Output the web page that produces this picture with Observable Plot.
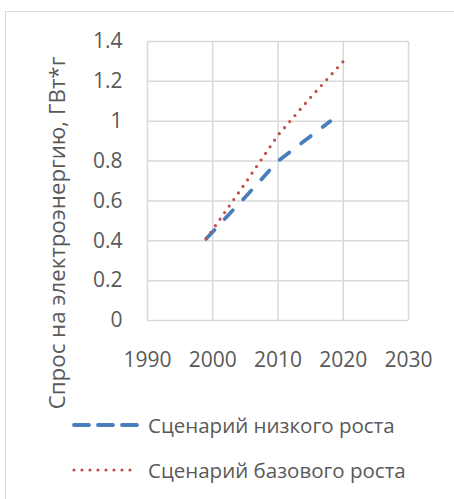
<!DOCTYPE html>
<html>
<head>
<meta charset="utf-8">
<script src="https://cdn.jsdelivr.net/npm/d3@7"></script>
<script src="https://cdn.jsdelivr.net/npm/@observablehq/plot@0.6"></script>
<style>
  html, body { margin: 0; padding: 0; background: #fff; }
  #wrap { position: relative; width: 454px; height: 499px; overflow: hidden; font-family: "Open Sans", sans-serif; color: #595959; }
  #frame { position: absolute; left: 5px; top: 11px; width: 470px; height: 510px; border: 1.5px solid #d9d9d9; box-sizing: border-box; }
  #chart { position: absolute; left: 0; top: 0; }
  .leg { position: absolute; left: 72px; height: 30px; display: flex; align-items: center; font-size: 20.5px; white-space: nowrap; }
  .leg svg { margin-right: 8px; }
</style>
</head>
<body>
<div id="wrap">
  <div id="frame"></div>
  <div id="chart"></div>
  <div class="leg" id="leg1" style="top:410px"></div>
  <div class="leg" id="leg2" style="top:455px"></div>
</div>
<script>
const xTicks = [1990, 2000, 2010, 2020, 2030];
const yTicks = [0, 0.2, 0.4, 0.6, 0.8, 1, 1.2, 1.4];
const seriesNames = ["Сценарий низкого роста", "Сценарий базового роста"];
const yLabel = "Спрос на электроэнергию, ГВт*г";
const yearsLow = [1999, 2005, 2010, 2015, 2018];
const valuesLow = [0.41, 0.62, 0.80, 0.925, 1.0];
const yearsBase = [1999, 2005, 2010, 2015, 2020];
const valuesBase = [0.41, 0.69, 0.93, 1.12, 1.30];
const colors = ["#4a7ebb", "#c0504d"];

const low = yearsLow.map((y, i) => ({year: y, value: valuesLow[i]}));
const base = yearsBase.map((y, i) => ({year: y, value: valuesBase[i]}));

const plot = Plot.plot({
  width: 454,
  height: 400,
  marginLeft: 147,
  marginRight: 46,
  marginTop: 41,
  marginBottom: 80,
  style: {fontFamily: "Open Sans, sans-serif", fontSize: "21px", color: "#595959", background: "transparent", overflow: "visible"},
  x: {domain: [1990, 2030]},
  y: {domain: [0, 1.4]},
  marks: [
    Plot.gridX(xTicks, {stroke: "#d9d9d9", strokeOpacity: 1, strokeWidth: 1.5}),
    Plot.gridY(yTicks, {stroke: "#d9d9d9", strokeOpacity: 1, strokeWidth: 1.5}),
    Plot.axisX(xTicks, {tickSize: 0, tickPadding: 32, tickFormat: d => String(d), label: null, fill: "#595959", fontSize: 21}),
    Plot.axisY(yTicks, {tickSize: 0, tickPadding: 25, tickFormat: d => String(d), label: null, fill: "#595959", fontSize: 21}),
    Plot.text([yLabel], {frameAnchor: "left", textAnchor: "middle", dx: -90, dy: 52, rotate: -90, fill: "#595959", fontSize: 22.3}),
    Plot.line(low, {x: "year", y: "value", stroke: colors[0], strokeWidth: 3.8, strokeDasharray: "12,15", strokeLinecap: "round"}),
    Plot.line(base, {x: "year", y: "value", stroke: colors[1], strokeWidth: 3.2, strokeDasharray: "0,8", strokeLinecap: "round"})
  ]
});
document.getElementById("chart").appendChild(plot);

function legendItem(id, color, dash, width, name) {
  const el = d3.select("#" + id);
  const s = el.append("svg").attr("width", 68).attr("height", 10);
  s.append("line").attr("x1", 2).attr("x2", 66).attr("y1", 5).attr("y2", 5)
    .attr("stroke", color).attr("stroke-width", width)
    .attr("stroke-dasharray", dash).attr("stroke-linecap", "round");
  el.append("span").text(name);
}
legendItem("leg1", colors[0], "15,9", 3.8, seriesNames[0]);
legendItem("leg2", colors[1], "0,8", 3.2, seriesNames[1]);
</script>
</body>
</html>
